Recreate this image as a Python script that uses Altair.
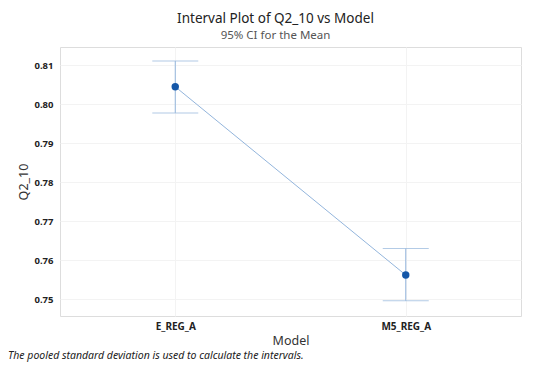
import altair as alt
import pandas as pd

models = ["E_REG_A", "M5_REG_A"]
means = [0.8045, 0.7562]
lower = [0.7978, 0.7496]
upper = [0.8111, 0.7630]
y_ticks = [0.75, 0.76, 0.77, 0.78, 0.79, 0.80, 0.81]
footer = "The pooled standard deviation is used to calculate the intervals."

df = pd.DataFrame({"Model": models, "mean": means, "lo": lower, "hi": upper})

W, H = 461, 269
FONT = "Noto Sans"
LIGHT = "#93b5dc"
DARK = "#1457a8"

xenc = alt.X("Model:N", sort=models,
             scale=alt.Scale(type="point", padding=0.5),
             axis=alt.Axis(title="Model", labelAngle=0, ticks=False, domain=False,
                           labelFontWeight="bold", labelFontSize=10, labelColor="#222",
                           labelPadding=5, titleFontSize=12.5, titleFontWeight="normal",
                           titleColor="#333", titlePadding=3, grid=True,
                           gridColor="#f3f3f3"))
yscale = alt.Scale(domain=[0.7457, 0.8147], nice=False, zero=False)
yaxis = alt.Axis(title="Q2_10", values=y_ticks, format=".2f", ticks=False, domain=False,
                 labelFontWeight="bold", labelFontSize=9.5, labelColor="#222",
                 labelPadding=7, titleFontSize=12.5, titleFontWeight="normal",
                 titleColor="#333", titlePadding=4, grid=True, gridColor="#f3f3f3")

base = alt.Chart(df)

line = base.mark_line(color=LIGHT, strokeWidth=1).encode(
    x=xenc, y=alt.Y("mean:Q", scale=yscale, axis=yaxis))
rule = base.mark_rule(color=LIGHT, strokeWidth=1).encode(
    x=alt.X("Model:N", sort=models), y="lo:Q", y2="hi:Q")
cap_lo = base.mark_tick(color=LIGHT, size=46, thickness=1, orient="horizontal").encode(
    x=alt.X("Model:N", sort=models), y="lo:Q")
cap_hi = base.mark_tick(color=LIGHT, size=46, thickness=1, orient="horizontal").encode(
    x=alt.X("Model:N", sort=models), y="hi:Q")
pts = base.mark_circle(color=DARK, opacity=1, size=55).encode(
    x=alt.X("Model:N", sort=models), y="mean:Q")

foot = alt.Chart(pd.DataFrame({"t": [footer]})).mark_text(
    align="left", baseline="alphabetic", fontStyle="italic", fontSize=10.5,
    font=FONT, color="#222").encode(
    text="t:N", x=alt.value(-52), y=alt.value(312))

chart = alt.layer(line, rule, cap_lo, cap_hi, pts, foot).properties(
    width=W, height=H,
    autosize=alt.AutoSizeParams(type="none"),
    padding={"left": 52, "top": 39, "right": 15, "bottom": 47},
    title=alt.TitleParams(text="Interval Plot of Q2_10 vs Model",
                          subtitle="95% CI for the Mean",
                          anchor="middle", dx=-15, offset=6,
                          fontSize=13.5, fontWeight="normal", color="#222",
                          subtitleFontSize=11.5, subtitleColor="#555",
                          subtitlePadding=4, font=FONT, subtitleFont=FONT),
).configure_view(stroke="#e3e3e3", strokeWidth=1).configure(
    font=FONT
).configure_axis(labelFont=FONT, titleFont=FONT)

chart.save("out.html", embed_options={"renderer": "svg", "actions": False})
